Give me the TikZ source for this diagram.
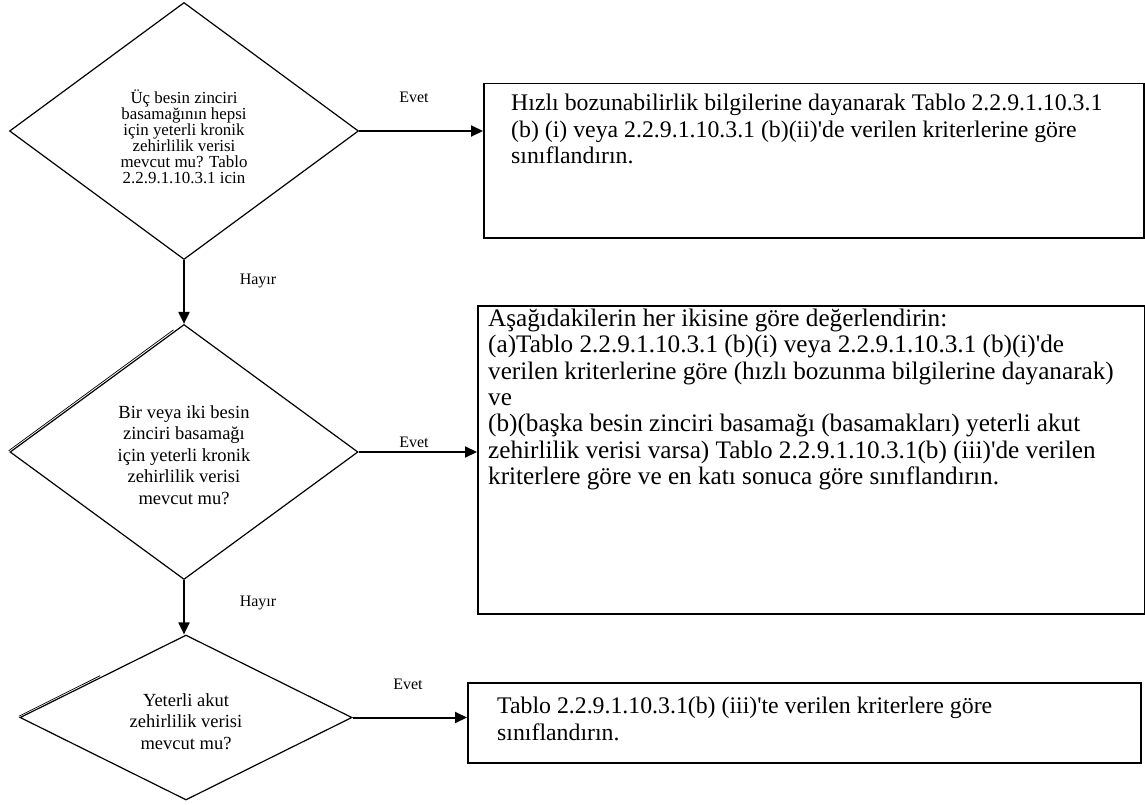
\documentclass[tikz,border=0pt]{standalone}
\usepackage{fontspec}
\defaultfontfeatures[\rmfamily]{}
\setmainfont{Liberation Serif}
\usetikzlibrary{shapes.geometric,arrows.meta,positioning}
\newcommand{\tightlines}{\lineskiplimit=-20pt\relax}

\begin{document}
\begin{tikzpicture}[x=1pt,y=-1pt,
		question/.style={diamond,draw,line width=1.2pt,inner sep=0pt},
		qtext/.style={align=center,inner sep=0pt},
		resultbox/.style={rectangle,draw,line width=1.5pt,inner sep=0pt,anchor=north west},
		boxtext/.style={anchor=north west,inner sep=0pt,align=left,font=\fontsize{23.8}{26.5}\selectfont},
		answer/.style={font=\fontsize{16}{18}\selectfont},
		flow/.style={-{Triangle[length=12pt,width=11pt]},line width=2pt}]
	\useasboundingbox (0,0) rectangle (1145,805);

	% Draw decision diamonds
	\node[question,minimum width=349pt,minimum height=257pt] (q1) at (184,131) {};
	\node[question,minimum width=348pt,minimum height=255pt] (q2) at (184,452) {};
	\node[question,minimum width=332pt,minimum height=165pt] (q3) at (186,717.5) {};

	\node[qtext,font={\fontsize{16.9}{16}\selectfont\tightlines}] (q1text) at ([yshift=-6pt]q1.center)
		{Üç besin zinciri\\basamağının hepsi\\için yeterli kronik\\zehirlilik verisi\\mevcut mu? Tablo\\2.2.9.1.10.3.1 icin};
	\node[qtext,font=\fontsize{18.5}{21.5}\selectfont] (q2text) at ([yshift=-3pt]q2.center)
		{Bir veya iki besin\\zinciri basamağı\\için yeterli kronik\\zehirlilik verisi\\mevcut mu?};
	\node[qtext,font=\fontsize{18.5}{21.5}\selectfont] (q3text) at ([yshift=-4pt]q3.center)
		{Yeterli akut\\zehirlilik verisi\\mevcut mu?};

	% Doubled upper left edges
	\draw[line width=0.7pt,shorten >=12pt] ([xshift=-0.8pt,yshift=1.2pt]q2.west) -- ([xshift=-0.8pt,yshift=1.2pt]q2.north);
	\draw[line width=0.7pt,shorten >=95pt] ([xshift=-0.7pt,yshift=1.2pt]q3.west) -- ([xshift=-0.7pt,yshift=1.2pt]q3.north);

	% Draw result boxes
	\node[resultbox,minimum width=660pt,minimum height=154pt] (b1) at (483,83) {};
	\node[resultbox,minimum width=667pt,minimum height=308pt] (b2) at (477,305) {};
	\node[resultbox,minimum width=673pt,minimum height=80pt] (b3) at (467,682) {};

	\node[boxtext,below right=11pt and 28pt of b1.north west] (t1)
		{Hızlı bozunabilirlik bilgilerine dayanarak Tablo 2.2.9.1.10.3.1\\(b) (i) veya 2.2.9.1.10.3.1 (b)(ii)'de verilen kriterlerine göre\\sınıflandırın.};
	\node[boxtext,below right=4pt and 11pt of b2.north west,font={\fontsize{25.2}{26.3}\selectfont\tightlines}] (t2)
		{Aşağıdakilerin her ikisine göre değerlendirin:\\(a)Tablo 2.2.9.1.10.3.1 (b)(i) veya 2.2.9.1.10.3.1 (b)(i)'de\\verilen kriterlerine göre (hızlı bozunma bilgilerine dayanarak)\\ve\\(b)(başka besin zinciri basamağı (basamakları) yeterli akut\\zehirlilik verisi varsa) Tablo 2.2.9.1.10.3.1(b) (iii)'de verilen\\kriterlere göre ve en katı sonuca göre sınıflandırın.};
	\node[boxtext,below right=15pt and 30pt of b3.north west] (t3)
		{Tablo 2.2.9.1.10.3.1(b) (iii)'te verilen kriterlere göre\\sınıflandırın.};

	% Draw arrows
	\draw[flow] (q1.east) -- (q1.east -| b1.west);
	\draw[flow] (q2.east) -- (q2.east -| b2.west);
	\draw[flow] (q3.east) -- (q3.east -| b3.west);
	\draw[flow] (q1.south) -- (q2.north);
	\draw[flow] (q2.south) -- (q2.south |- q3.north);

	% Label the answers
	\node[answer] (e1) at (414,97) {Evet};
	\node[answer] (e2) at (414,442) {Evet};
	\node[answer] (e3) at (408,684) {Evet};
	\node[answer] (h1) at (258,281) {Hayır};
	\node[answer] (h2) at (258,603) {Hayır};
\end{tikzpicture}
\end{document}
